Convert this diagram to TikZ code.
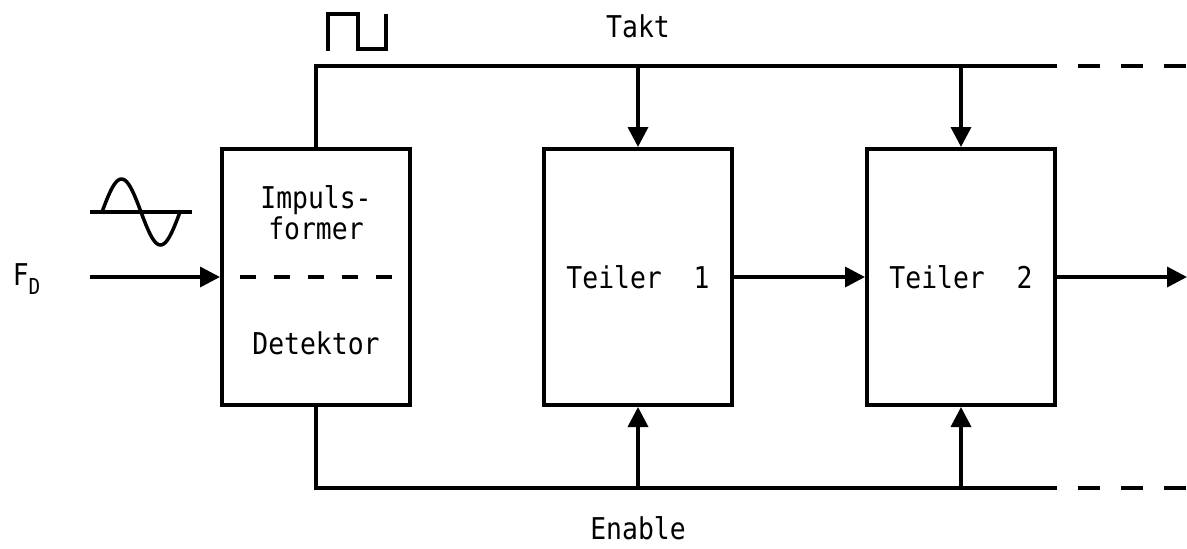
\documentclass[tikz,border=0pt]{standalone}
\usepackage{fontspec}
\setmainfont[FakeStretch=0.88]{DejaVu Sans Mono}
\usetikzlibrary{arrows.meta}
\begin{document}
\begin{tikzpicture}[x=1pt,y=-1pt,
  line width=3.5pt,
  blk/.style={draw,line width=4pt,minimum width=188pt,minimum height=256pt,inner sep=0pt,
              font=\fontsize{30}{31}\selectfont},
  lbl/.style={font=\fontsize{30}{31}\selectfont,inner sep=0pt,align=center},
  arr/.style={-{Triangle[length=20pt,width=20pt]}},
  ext/.style={dash pattern=on 22pt off 21pt},
  inner/.style={dash pattern=on 16pt off 18pt},
]
\useasboundingbox (0,0) rectangle (1187,549);

% blocks
\node[blk] (b1) at (316,277) {};
\node[blk] (b2) at (638,277) {Teiler~~1};
\node[blk] (b3) at (961,277) {Teiler~~2};

% texts in block 1
\node[lbl] (t1) at (316,213) {Impuls-\\former};
\node[lbl] (t2) at (316,343) {Detektor};
\draw[inner] (240,277) -- (392,277);

% labels
\node[lbl] (takt) at (638,26) {Takt};
\node[lbl] (enable) at (638,528) {Enable};
\node[lbl,anchor=west] (fd) at (11,279) {F\raisebox{-9pt}{\fontsize{22}{22}\selectfont D}};

% coordinates
\coordinate (tl) at (316,66);
\coordinate (tr) at (1057,66);
\coordinate (td1) at (1078,66);
\coordinate (td2) at (1187,66);
\coordinate (bl) at (316,488);
\coordinate (br) at (1057,488);
\coordinate (bd1) at (1078,488);
\coordinate (bd2) at (1187,488);
\coordinate (t2j) at (638,66);
\coordinate (t3j) at (961,66);
\coordinate (b2j) at (638,488);
\coordinate (b3j) at (961,488);
\coordinate (in) at (90,277);
\coordinate (out) at (1187,277);

% clock bus
\draw (b1.north) -- (tl) -- (tr);
\draw[ext] (td1) -- (td2);
\draw[arr] (t2j) -- (b2.north);
\draw[arr] (t3j) -- (b3.north);

% enable bus
\draw (b1.south) -- (bl) -- (br);
\draw[ext] (bd1) -- (bd2);
\draw[arr] (b2j) -- (b2.south);
\draw[arr] (b3j) -- (b3.south);

% signal path
\draw[arr] (in) -- (b1.west);
\draw[arr] (b2.east) -- (b3.west);
\draw[arr] (b3.east) -- (out);

% sine symbol
\draw (90,212) -- (192,212);
\draw[domain=0:360,samples=60,smooth] plot ({102+\x/360*78},{212-33*sin(\x)});

% square pulse symbol
\draw[line join=miter] (328,51) -- (328,14) -- (358,14) -- (358,49) -- (386,49) -- (386,14);
\end{tikzpicture}
\end{document}
